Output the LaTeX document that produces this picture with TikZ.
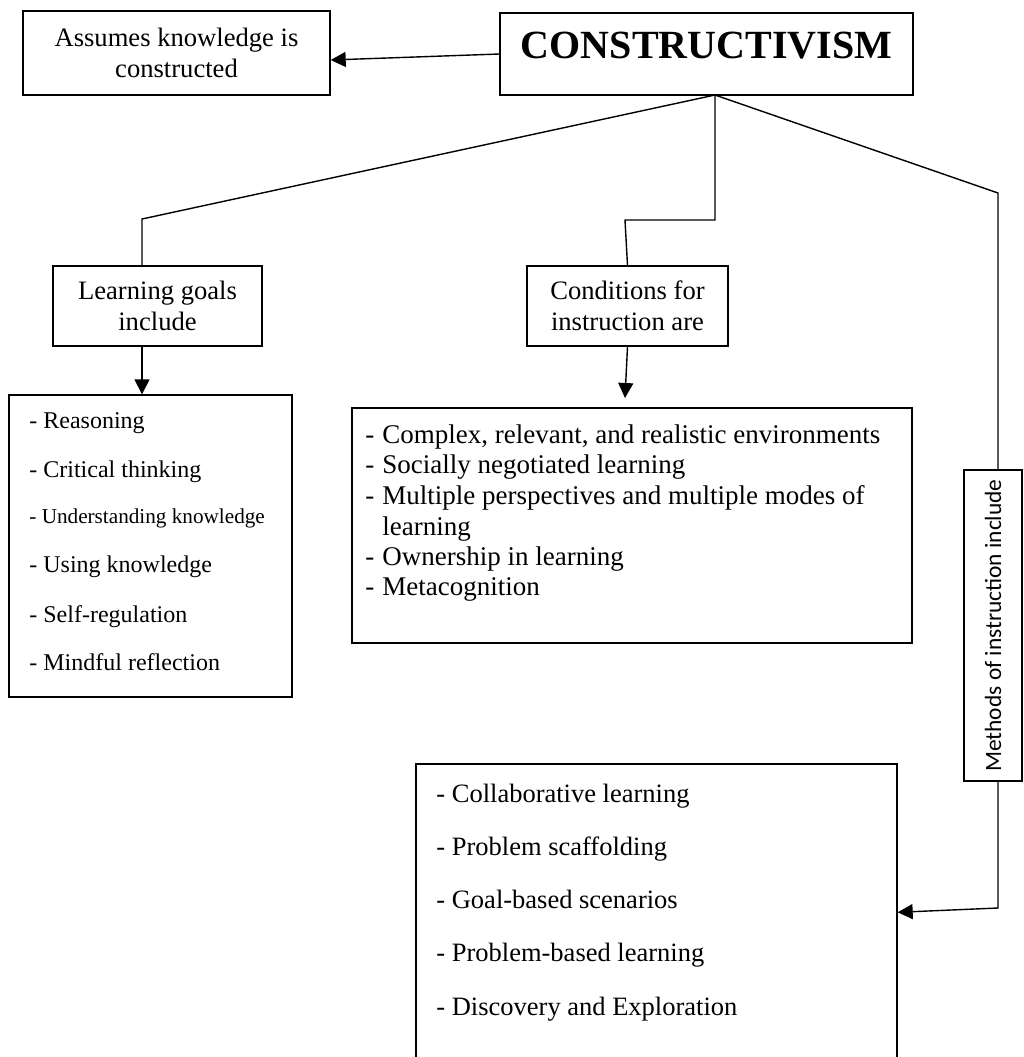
\documentclass[tikz,border=0pt]{standalone}
\usepackage{fontspec}
\setmainfont{Liberation Serif}
\newfontfamily\calibri{Carlito}
\usetikzlibrary{calc}
\usetikzlibrary{arrows.meta}
\tikzset{
  box/.style={draw=black,line width=.7pt,inner sep=0pt,align=center},
  lbl/.style={box,font=\fontsize{13.3}{15.5}\selectfont},
  link/.style={draw=black,line width=.7pt},
  arr/.style={link,-{Triangle[length=7.5pt,width=7.5pt]}},
  item/.style={anchor=base west,inner sep=0pt},
}

\begin{document}
\begin{tikzpicture}[x=0.5pt,y=-0.5pt]
\path[use as bounding box,fill=white] (0,0) rectangle (1024,1057);
\clip (0,0) rectangle (1024,1057);
% top row
\node[box,font=\bfseries\fontsize{20}{22}\selectfont,minimum width=206.5pt,
  text height=22.5pt,text depth=18.5pt] (constr) at (706.5,54) {CONSTRUCTIVISM};
\node[lbl,minimum width=153.5pt,minimum height=42pt] (assume) at (176.5,53)
  {Assumes knowledge is\\constructed};
% second row
\node[lbl,minimum width=104.5pt,minimum height=40pt] (goals) at (157.5,306)
  {Learning goals\\include};
\node[lbl,minimum width=100.5pt,minimum height=40pt] (cond) at (627.5,306)
  {Conditions for\\instruction are};
\node[box,rotate=90,font=\calibri\fontsize{11.7}{13}\selectfont,
  minimum width=155.5pt,minimum height=29pt] (methods) at (993,625.5)
  {Methods of instruction include};
% lists
\node[box,minimum width=141.5pt,minimum height=151pt] (goallist) at (150.5,546) {};
\node[box,minimum width=280pt,minimum height=117.5pt] (condlist) at (632,525.5) {};
\node[box,minimum width=240.5pt,minimum height=155.5pt] (methlist) at (656.5,919.5) {};

\foreach \y/\t [count=\i] in {428/{- Reasoning},477/{- Critical thinking},
    523/{\fontsize{10.6}{12}\selectfont - Understanding knowledge},572/{- Using knowledge},
    622/{- Self-regulation},670/{- Mindful reflection}}
  \node[item,font=\fontsize{12}{14}\selectfont] (goal\i) at (29,\y) {\t};

\foreach \y/\t [count=\i] in {443/{Complex, relevant, and realistic environments},
    473/{Socially negotiated learning},504/{Multiple perspectives and multiple modes of},
    535/{learning},565/{Ownership in learning},595/{Metacognition}}
  \node[item,font=\fontsize{13.5}{15}\selectfont] (cond\i) at (382,\y) {\t};
\foreach \y in {443,473,504,565,595}
  \node[item,font=\fontsize{13.5}{15}\selectfont] (cdash\y) at (365,\y) {-};

\foreach \t [count=\i] in {{- Collaborative learning},{- Problem scaffolding},
    {- Goal-based scenarios},{- Problem-based learning},{- Discovery and Exploration}}
  \node[item,font=\fontsize{13.25}{15}\selectfont] (meth\i) at (436,{802+(\i-1)*53.3}) {\t};

% connectors
\coordinate (hub) at (715,95);
\coordinate (bendL) at (142,219);
\coordinate (bendC1) at (715,220);
\coordinate (bendC2) at (625,220);
\coordinate (bendR) at (998,193);
\coordinate (condtip) at (625,398);
\coordinate (methbend) at (998,908);
\draw[arr] (constr.west) -- ($(assume.east)+(0,7)$);
\draw[link] (hub) -- (bendL) -- (bendL |- goals.north);
\draw[link] (hub) -- (bendC1) -- (bendC2) -- (cond.north);
\draw[link] (hub) -- (bendR) -- (bendR |- methods.east);
\draw[arr] (bendL |- goals.south) -- (bendL |- goallist.north);
\draw[arr] (cond.south) -- (condtip);
\draw[arr] (bendR |- methods.west) -- (methbend) -- ($(methlist.north east)+(0,149)$);
\end{tikzpicture}
\end{document}
